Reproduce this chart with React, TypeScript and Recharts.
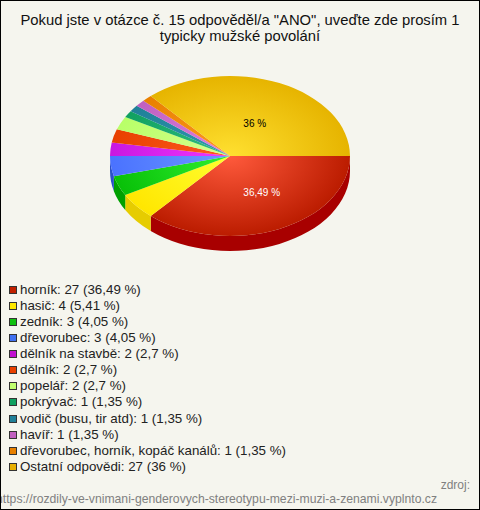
import React from 'react';
import { PieChart, Pie, Legend } from 'recharts';

const categories = [
  'horník',
  'hasič',
  'zedník',
  'dřevorubec',
  'dělník na stavbě',
  'dělník',
  'popelář',
  'pokrývač',
  'vodič (busu, tir atd)',
  'havíř',
  'dřevorubec, horník, kopáč kanálů',
  'Ostatní odpovědi',
];
const counts = [27, 4, 3, 3, 2, 2, 2, 1, 1, 1, 1, 27];
const percents = ['36,49', '5,41', '4,05', '4,05', '2,7', '2,7', '2,7', '1,35', '1,35', '1,35', '1,35', '36'];
// legend swatch, then gradient centre / rim, then side wall
const swatches = ['#c02000', '#ffe800', '#10c010', '#4070f0', '#c010d0', '#e84000', '#c0ff70', '#10a060', '#208098', '#c060c0', '#e88000', '#e8b000'];
const lightColors = ['#ff5a3c', '#ffff30', '#30f030', '#6c98ff', '#f038ff', '#ff5a20', '#d8ff90', '#30c080', '#3098b0', '#e080e0', '#ff9820', '#ffe030'];
const rimColors = ['#bb1c00', '#ffe600', '#08c008', '#4a72ff', '#c818e0', '#e84000', '#b8ff68', '#10a060', '#208098', '#c060c0', '#e88000', '#e6b400'];
const wallColors = ['#a80000', '#e6cc00', '#00a000', '#2a50c8', '#a000b0', '#c03000', '#90d050', '#008040', '#106070', '#904090', '#c06000', '#c09000'];

const titleLines = ['Pokud jste v otázce č. 15 odpověděl/a "ANO", uveďte zde prosím 1', 'typicky mužské povolání'];
const sourceLabel = 'zdroj:';
const sourceUrl = 'https://rozdily-ve-vnimani-genderovych-stereotypu-mezi-muzi-a-zenami.vyplnto.cz';

const FONT = '"Liberation Sans", Arial, sans-serif';
const CX = 230;
const CY = 156;
const RX = 120;
const SQUASH = 2 / 3;
const DEPTH = 15;

const data = categories.map((name, i) => ({ name, value: counts[i], idx: i }));

const ptX = (cx: number, r: number, deg: number) => cx + r * Math.cos((deg * Math.PI) / 180);
const ptY = (cy: number, r: number, deg: number) => cy - r * SQUASH * Math.sin((deg * Math.PI) / 180);

const TopSlice = (props: any) => {
  const { cx, cy, outerRadius: r, startAngle, endAngle, idx } = props;
  const ry = r * SQUASH;
  const large = Math.abs(endAngle - startAngle) > 180 ? 1 : 0;
  const d = `M${cx},${cy} L${ptX(cx, r, startAngle)},${ptY(cy, r, startAngle)} A${r},${ry} 0 ${large} 1 ${ptX(cx, r, endAngle)},${ptY(cy, r, endAngle)} Z`;
  return <path d={d} fill={`url(#slice${idx})`} stroke="none" />;
};

// side wall, only where the slice faces the viewer (screen angles 0..-180)
const WallSlice = (props: any) => {
  const { cx, cy, outerRadius: r, startAngle, endAngle, idx } = props;
  const ry = r * SQUASH;
  const from = Math.min(startAngle, 0);
  const to = Math.max(endAngle, -180);
  if (from <= to) return null;
  const d = `M${ptX(cx, r, from)},${ptY(cy, r, from)} A${r},${ry} 0 0 1 ${ptX(cx, r, to)},${ptY(cy, r, to)} L${ptX(cx, r, to)},${ptY(cy, r, to) + DEPTH} A${r},${ry} 0 0 0 ${ptX(cx, r, from)},${ptY(cy, r, from) + DEPTH} Z`;
  return <path d={d} fill={wallColors[idx]} stroke="none" />;
};

const sliceLabel = (props: any) => {
  const { cx, cy, midAngle, outerRadius: r, index } = props;
  if (index !== 0 && index !== categories.length - 1) return null;
  const x = cx + r * 0.27 * Math.cos((midAngle * Math.PI) / 180);
  const y = cy - r * SQUASH * 0.47 * Math.sin((midAngle * Math.PI) / 180) + 2;
  return (
    <text x={x} y={y} textAnchor="start" dominantBaseline="central" fontFamily={FONT} fontSize={10} fill={index === 0 ? '#ffffff' : '#000000'}>
      {percents[index]} %
    </text>
  );
};

const legendContent = () => (
  <div style={{ fontFamily: FONT, fontSize: 13.33, color: '#222222' }}>
    {categories.map((name, i) => (
      <div key={name} style={{ height: 16.07, lineHeight: '16px', whiteSpace: 'nowrap', display: 'flex', alignItems: 'center' }}>
        <span style={{ display: 'inline-block', width: 6, height: 6, border: '1px solid #333333', background: swatches[i], marginRight: 3 }} />
        {name}: {counts[i]} ({percents[i]} %)
      </div>
    ))}
  </div>
);

export default function App() {
  return (
    <div style={{ position: 'absolute', left: 0, top: 0, width: 478, height: 508, border: '1px solid #000000', background: '#f5f5ee', overflow: 'hidden' }}>
      <PieChart width={478} height={508} margin={{ top: 0, right: 0, bottom: 0, left: 0 }}>
        <defs>
          {categories.map((name, i) => (
            <radialGradient
              key={name}
              id={`slice${i}`}
              gradientUnits="userSpaceOnUse"
              cx={0}
              cy={0}
              r={1}
              gradientTransform={`translate(${CX - 1},${CY - 1}) scale(${RX},${RX * SQUASH})`}
            >
              <stop offset="0%" stopColor={lightColors[i]} />
              <stop offset="100%" stopColor={rimColors[i]} />
            </radialGradient>
          ))}
        </defs>
        <text textAnchor="middle" fontFamily={FONT} fontSize={14.8} fill="#111111">
          {titleLines.map((line, i) => (
            <tspan key={line} x={239} y={24 + i * 16}>
              {line}
            </tspan>
          ))}
        </text>
        <Pie
          data={data}
          dataKey="value"
          cx={CX - 1}
          cy={CY - 1}
          outerRadius={RX}
          startAngle={0}
          endAngle={-360}
          legendType="none"
          shape={WallSlice}
          label={false}
          isAnimationActive={false}
        />
        <Pie
          data={data}
          dataKey="value"
          nameKey="name"
          cx={CX - 1}
          cy={CY - 1}
          outerRadius={RX}
          startAngle={0}
          endAngle={-360}
          shape={TopSlice}
          label={sliceLabel}
          labelLine={false}
          isAnimationActive={false}
        />
        <Legend content={legendContent} layout="vertical" wrapperStyle={{ position: 'absolute', left: 8, top: 281, width: 440 }} />
        <text x={469} y={488} textAnchor="end" fontFamily={FONT} fontSize={12} fill="#808080">
          {sourceLabel}
        </text>
        <text x={436} y={502} textAnchor="end" fontFamily={FONT} fontSize={12.2} fill="#808080">
          {sourceUrl}
        </text>
      </PieChart>
    </div>
  );
}
